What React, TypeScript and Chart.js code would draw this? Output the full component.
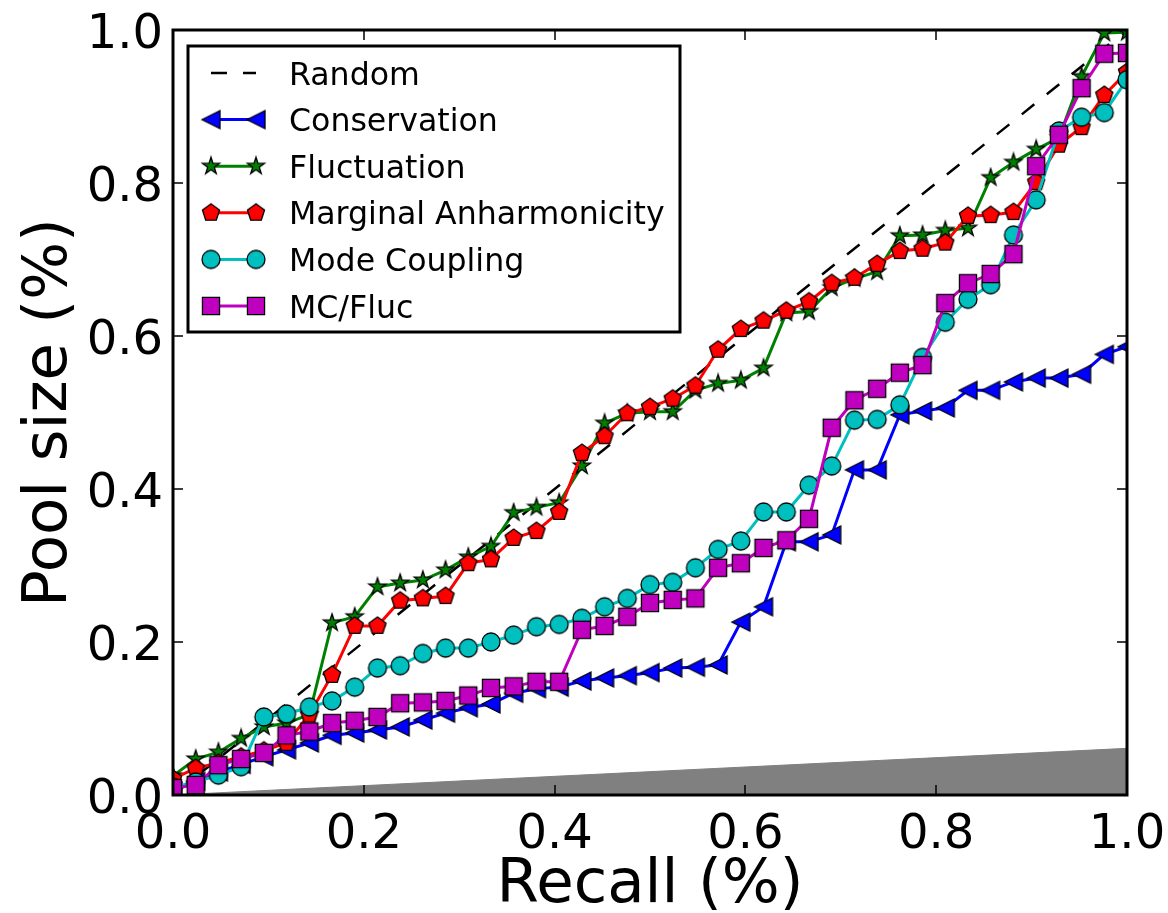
import React, { useEffect, useRef } from "react";
import { Chart, registerables } from "chart.js";

Chart.register(...registerables);

// ---- data ----
const recall = [
  0, 0.0238, 0.0476, 0.0714, 0.0952, 0.119, 0.1429, 0.1667, 0.1905, 0.2143,
  0.2381, 0.2619, 0.2857, 0.3095, 0.3333, 0.3571, 0.381, 0.4048, 0.4286, 0.4524,
  0.4762, 0.5, 0.5238, 0.5476, 0.5714, 0.5952, 0.619, 0.6429, 0.6667, 0.6905,
  0.7143, 0.7381, 0.7619, 0.7857, 0.8095, 0.8333, 0.8571, 0.881, 0.9048, 0.9286,
  0.9524, 0.9762, 1.0,
];

const conservation = [
  0.005, 0.018, 0.03, 0.04, 0.05, 0.059, 0.068, 0.078, 0.081, 0.085,
  0.089, 0.098, 0.107, 0.114, 0.119, 0.133, 0.139, 0.141, 0.149, 0.153,
  0.156, 0.16, 0.166, 0.167, 0.17, 0.226, 0.246, 0.331, 0.331, 0.34,
  0.425, 0.425, 0.497, 0.502, 0.506, 0.529, 0.529, 0.54, 0.545, 0.545,
  0.55, 0.576, 0.586,
];

const fluctuation = [
  0.025, 0.047, 0.056, 0.074, 0.089, 0.094, 0.105, 0.225, 0.233, 0.272,
  0.277, 0.281, 0.294, 0.311, 0.325, 0.369, 0.376, 0.382, 0.43, 0.486,
  0.499, 0.501, 0.501, 0.529, 0.538, 0.542, 0.558, 0.63, 0.632, 0.663,
  0.675, 0.684, 0.731, 0.732, 0.738, 0.741, 0.807, 0.827, 0.844, 0.859,
  0.939, 0.996, 0.997,
];

const marginalAnharmonicity = [
  0.021, 0.035, 0.042, 0.05, 0.058, 0.068, 0.105, 0.157, 0.221, 0.221,
  0.254, 0.257, 0.26, 0.303, 0.308, 0.336, 0.345, 0.37, 0.447, 0.469,
  0.499, 0.507, 0.518, 0.535, 0.582, 0.609, 0.62, 0.633, 0.645, 0.669,
  0.676, 0.694, 0.711, 0.714, 0.722, 0.757, 0.758, 0.762, 0.801, 0.85,
  0.873, 0.915, 0.945,
];

const modeCoupling = [
  0.01, 0.017, 0.026, 0.037, 0.102, 0.106, 0.115, 0.123, 0.141, 0.166,
  0.169, 0.185, 0.192, 0.192, 0.2, 0.209, 0.22, 0.223, 0.231, 0.246,
  0.257, 0.275, 0.278, 0.297, 0.321, 0.332, 0.37, 0.37, 0.405, 0.43,
  0.49, 0.491, 0.51, 0.572, 0.618, 0.648, 0.667, 0.732, 0.778, 0.868,
  0.886, 0.892, 0.935,
];

const mcFluc = [
  0.009, 0.013, 0.039, 0.047, 0.055, 0.078, 0.083, 0.094, 0.097, 0.102,
  0.12, 0.121, 0.123, 0.13, 0.14, 0.142, 0.148, 0.148, 0.216, 0.221,
  0.233, 0.251, 0.255, 0.257, 0.297, 0.303, 0.323, 0.333, 0.361, 0.48,
  0.516, 0.531, 0.552, 0.562, 0.643, 0.669, 0.681, 0.707, 0.822, 0.863,
  0.924, 0.969, 0.97,
];

const randomX = [0, 1];
const randomY = [0, 1];
const baselineX = [0, 1];
const baselineY = [0, 0.061];

const xTicks = [0, 0.2, 0.4, 0.6, 0.8, 1.0];
const yTicks = [0, 0.2, 0.4, 0.6, 0.8, 1.0];
const xTickLabels = ["0.0", "0.2", "0.4", "0.6", "0.8", "1.0"];
const yTickLabels = ["0.0", "0.2", "0.4", "0.6", "0.8", "1.0"];
const xTitle = "Recall (%)";
const yTitle = "Pool size (%)";

const FONT = '"DejaVu Sans", "Bitstream Vera Sans", sans-serif';

// ---- markers ----
function makeMarker(shape: string, color: string, size = 18): HTMLCanvasElement {
  const S = size + 4;
  const c = document.createElement("canvas");
  c.width = S;
  c.height = S;
  const g = c.getContext("2d")!;
  const cx = S / 2;
  const cy = S / 2;
  const r = size / 2;
  g.beginPath();
  if (shape === "circle") {
    g.arc(cx, cy, r, 0, Math.PI * 2);
  } else if (shape === "square") {
    g.rect(cx - r * 0.95, cy - r * 0.95, size * 0.95, size * 0.95);
  } else if (shape === "triLeft") {
    g.moveTo(cx - r, cy);
    g.lineTo(cx + r, cy - r);
    g.lineTo(cx + r, cy + r);
    g.closePath();
  } else if (shape === "pentagon") {
    for (let k = 0; k < 5; k++) {
      const a = -Math.PI / 2 + (k * 2 * Math.PI) / 5;
      const px = cx + r * Math.cos(a);
      const py = cy + r * Math.sin(a);
      if (k === 0) g.moveTo(px, py);
      else g.lineTo(px, py);
    }
    g.closePath();
  } else if (shape === "star") {
    const ri = r * 0.381966;
    for (let k = 0; k < 10; k++) {
      const a = -Math.PI / 2 + (k * Math.PI) / 5;
      const rr = k % 2 === 0 ? r : ri;
      const px = cx + rr * Math.cos(a);
      const py = cy + rr * Math.sin(a);
      if (k === 0) g.moveTo(px, py);
      else g.lineTo(px, py);
    }
    g.closePath();
  }
  g.fillStyle = color;
  g.fill();
  g.lineWidth = 1.3;
  g.strokeStyle = "#000000";
  g.lineJoin = "miter";
  g.stroke();
  return c;
}

const decorPlugin = {
  id: "decor",
  afterDraw(chart: any) {
    const { ctx, chartArea: a, scales } = chart;
    const xs = scales.x;
    const ys = scales.y;
    ctx.save();

    // inward ticks on all four sides
    ctx.strokeStyle = "#000";
    ctx.lineWidth = 1.5;
    ctx.beginPath();
    xTicks.forEach((v) => {
      const px = Math.round(xs.getPixelForValue(v));
      ctx.moveTo(px, a.bottom);
      ctx.lineTo(px, a.bottom - 10);
      ctx.moveTo(px, a.top);
      ctx.lineTo(px, a.top + 10);
    });
    yTicks.forEach((v) => {
      const py = Math.round(ys.getPixelForValue(v));
      ctx.moveTo(a.left, py);
      ctx.lineTo(a.left + 10, py);
      ctx.moveTo(a.right, py);
      ctx.lineTo(a.right - 10, py);
    });
    ctx.stroke();

    // frame
    ctx.lineWidth = 3;
    ctx.strokeRect(a.left, a.top, a.right - a.left, a.bottom - a.top);

    // tick labels
    ctx.fillStyle = "#000";
    ctx.font = `48px ${FONT}`;
    ctx.textBaseline = "alphabetic";
    ctx.textAlign = "center";
    xTicks.forEach((v, i) => {
      ctx.fillText(xTickLabels[i], xs.getPixelForValue(v), a.bottom + 53);
    });
    ctx.textAlign = "right";
    yTicks.forEach((v, i) => {
      ctx.fillText(yTickLabels[i], a.left - 10, ys.getPixelForValue(v) + 17.5);
    });

    // axis titles
    ctx.font = `61px ${FONT}`;
    ctx.textAlign = "center";
    ctx.fillText(xTitle, (a.left + a.right) / 2, 902);
    ctx.save();
    ctx.translate(66, (a.top + a.bottom) / 2);
    ctx.rotate(-Math.PI / 2);
    ctx.fillText(yTitle, 0, 0);
    ctx.restore();

    // legend
    const bx = 188, by = 46, bw = 492, bh = 286;
    ctx.fillStyle = "#fff";
    ctx.fillRect(bx, by, bw, bh);
    ctx.lineWidth = 3;
    ctx.strokeStyle = "#000";
    ctx.strokeRect(bx, by, bw, bh);

    const items = chart.data.datasets.filter((d: any) => d.inLegend);
    items.forEach((d: any, i: number) => {
      const y = 73 + i * 46.6;
      ctx.save();
      ctx.strokeStyle = d.borderColor;
      ctx.lineWidth = d.borderWidth;
      ctx.setLineDash(d.borderDash || []);
      ctx.beginPath();
      ctx.moveTo(211, y);
      ctx.lineTo(256, y);
      ctx.stroke();
      ctx.restore();
      const m = d.pointStyle;
      if (m && typeof m === "object") {
        ctx.drawImage(m, 211 - m.width / 2, y - m.height / 2);
        ctx.drawImage(m, 256 - m.width / 2, y - m.height / 2);
      }
      ctx.fillStyle = "#000";
      ctx.font = `31.6px ${FONT}`;
      ctx.textAlign = "left";
      ctx.textBaseline = "alphabetic";
      ctx.fillText(d.label, 289, y + 11.5);
    });

    ctx.restore();
  },
};

export default function App() {
  const ref = useRef<HTMLCanvasElement | null>(null);

  useEffect(() => {
    if (!ref.current) return;
    const pts = (ys: number[]) => recall.map((x, i) => ({ x, y: ys[i] }));
    const series = (
      label: string,
      ys: number[],
      color: string,
      shape: string,
      order: number
    ) => ({
      label,
      inLegend: true,
      data: pts(ys),
      borderColor: color,
      backgroundColor: color,
      borderWidth: 3,
      pointStyle: makeMarker(shape, color),
      pointRadius: 9,
      pointHoverRadius: 9,
      tension: 0,
      fill: false,
      clip: 0,
      order,
    });

    const chart = new Chart(ref.current, {
      type: "line",
      data: {
        datasets: [
          {
            label: "",
            inLegend: false,
            data: baselineX.map((x, i) => ({ x, y: baselineY[i] })),
            borderColor: "#808080",
            backgroundColor: "#808080",
            borderWidth: 1,
            pointRadius: 0,
            fill: "origin",
            clip: 0,
            order: 10,
          },
          {
            label: "Random",
            inLegend: true,
            data: randomX.map((x, i) => ({ x, y: randomY[i] })),
            borderColor: "#000000",
            borderWidth: 2.5,
            borderDash: [16, 16],
            pointRadius: 0,
            fill: false,
            clip: 0,
            order: 9,
          },
          series("Conservation", conservation, "#0000ff", "triLeft", 8),
          series("Fluctuation", fluctuation, "#008000", "star", 7),
          series("Marginal Anharmonicity", marginalAnharmonicity, "#ff0000", "pentagon", 6),
          series("Mode Coupling", modeCoupling, "#00bfbf", "circle", 5),
          series("MC/Fluc", mcFluc, "#bf00bf", "square", 4),
        ] as any,
      },
      options: {
        animation: false,
        responsive: false,
        devicePixelRatio: 1,
        layout: { padding: { left: 173, right: 41, top: 30, bottom: 118 } },
        scales: {
          x: { type: "linear", min: 0, max: 1, display: false },
          y: { type: "linear", min: 0, max: 1, display: false },
        },
        plugins: {
          legend: { display: false },
          tooltip: { enabled: false },
        },
        events: [],
      },
      plugins: [decorPlugin],
    });
    return () => chart.destroy();
  }, []);

  return (
    <div style={{ position: "fixed", left: 0, top: 0, width: 1168, height: 913, background: "#fff" }}>
      <canvas ref={ref} width={1168} height={913} style={{ display: "block" }} />
    </div>
  );
}
